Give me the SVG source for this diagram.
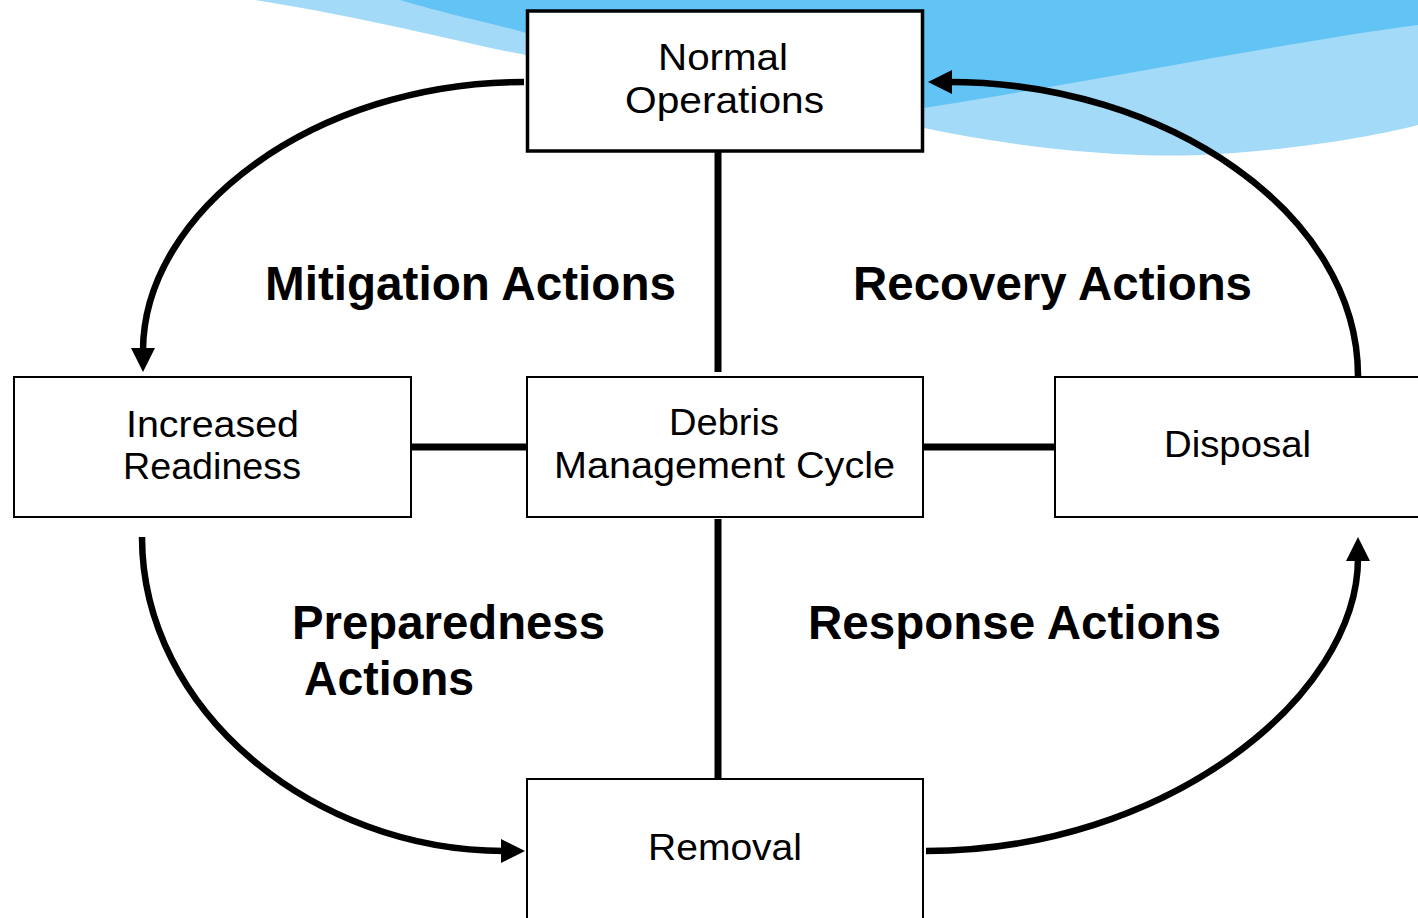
<svg xmlns="http://www.w3.org/2000/svg" width="1418" height="918" viewBox="0 0 1418 918">
<style>
.box{fill:#fff;stroke:#000}
.lbl{font-family:"Liberation Sans",Arial,sans-serif;font-size:36px;fill:#000}
.act{font-family:"Liberation Sans",Arial,sans-serif;font-size:48px;font-weight:bold;fill:#000}
.conn{stroke:#000;stroke-width:7;fill:none}
.arc{stroke:#000;stroke-width:6.5;fill:none;marker-end:url(#ah)}
</style>
<defs>
<marker id="ah" markerUnits="userSpaceOnUse" markerWidth="26" markerHeight="26" refX="3" refY="12" orient="auto">
<path d="M0,0 L24,12 L0,24 Z" fill="#000"/>
</marker>
</defs>
<rect width="1418" height="918" fill="#fff"/>
<g id="background">
<path d="M255,0 C380,20 470,45 526,55 L924,128 C1020,148 1120,158 1200,155 C1300,150 1380,135 1418,125 L1418,0 Z" fill="#A3DAF8"/>
<path d="M400,0 C450,15 500,25 526,33 L924,108 C1100,80 1300,40 1418,25 L1418,0 Z" fill="#62C3F5"/>
</g>
<g id="connectors">
<line class="conn" x1="718" y1="152" x2="718" y2="372"/>
<line class="conn" x1="718" y1="519" x2="718" y2="778"/>
<line class="conn" x1="411" y1="447" x2="526" y2="447"/>
<line class="conn" x1="924" y1="447" x2="1054" y2="447"/>
<path class="arc" d="M524,82 C313.6,82 143,211.8 143,351"/>
<path class="arc" d="M1358,376 C1358,212.7 1165.5,82 949,82"/>
<path class="arc" d="M142,537 C142,710.4 313.5,851 504,851"/>
<path class="arc" d="M926,851 C1164.6,851 1358,697.6 1358,558"/>
</g>
<g id="normal-operations">
<rect class="box" x="527.5" y="11" width="395" height="140" stroke-width="3.5"/>
<text class="lbl" x="658" y="70" textLength="130" lengthAdjust="spacingAndGlyphs">Normal</text>
<text class="lbl" x="625" y="113" textLength="199" lengthAdjust="spacingAndGlyphs">Operations</text>
</g>
<g id="increased-readiness">
<rect class="box" x="14" y="377" width="397" height="140" stroke-width="2"/>
<text class="lbl" x="126" y="437" textLength="173" lengthAdjust="spacingAndGlyphs">Increased</text>
<text class="lbl" x="123" y="479" textLength="178" lengthAdjust="spacingAndGlyphs">Readiness</text>
</g>
<g id="debris-management-cycle">
<rect class="box" x="527" y="377" width="396" height="140" stroke-width="2"/>
<text class="lbl" x="669" y="435" textLength="110" lengthAdjust="spacingAndGlyphs">Debris</text>
<text class="lbl" x="554" y="478" textLength="341" lengthAdjust="spacingAndGlyphs">Management Cycle</text>
</g>
<g id="disposal">
<rect class="box" x="1055" y="377" width="400" height="140" stroke-width="2"/>
<text class="lbl" x="1164" y="457" textLength="147" lengthAdjust="spacingAndGlyphs">Disposal</text>
</g>
<g id="removal">
<rect class="box" x="527" y="779" width="396" height="200" stroke-width="2"/>
<text class="lbl" x="648" y="860" textLength="154" lengthAdjust="spacingAndGlyphs">Removal</text>
</g>
<g id="labels">
<text class="act" x="265" y="300" textLength="411" lengthAdjust="spacingAndGlyphs">Mitigation Actions</text>
<text class="act" x="853" y="300" textLength="399" lengthAdjust="spacingAndGlyphs">Recovery Actions</text>
<text class="act" x="292" y="639" textLength="313" lengthAdjust="spacingAndGlyphs">Preparedness</text>
<text class="act" x="304" y="695" textLength="170" lengthAdjust="spacingAndGlyphs">Actions</text>
<text class="act" x="808" y="639" textLength="413" lengthAdjust="spacingAndGlyphs">Response Actions</text>
</g>
</svg>
